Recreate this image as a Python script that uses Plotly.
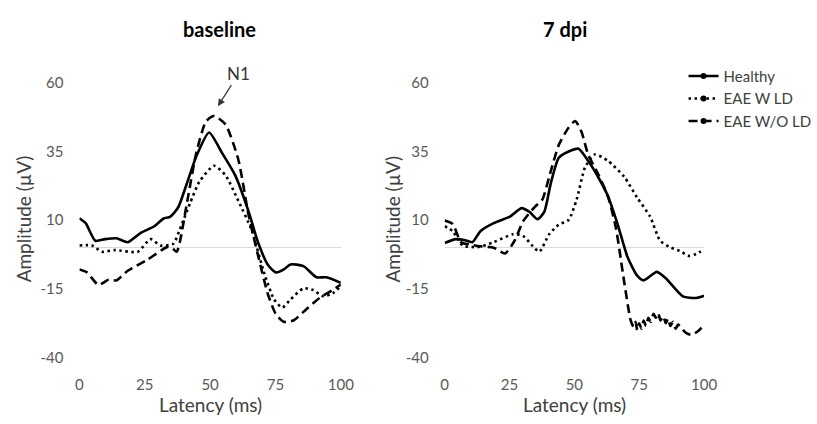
import plotly.graph_objects as go
from plotly.subplots import make_subplots

# ---------------- data ----------------
panel_titles = ["baseline", "7 dpi"]
series_names = ["Healthy", "EAE W LD", "EAE W/O LD"]
x_ticks = [0, 25, 50, 75, 100]
y_ticks = [60, 35, 10, -15, -40]

# baseline
base_healthy_t = [0, 2.4, 6.1, 9.8, 14.2, 18.5, 23.5, 28.5, 32.2, 34.7, 37.8, 40.9, 44.7, 49.6,
                  54.6, 59.6, 64.6, 68.3, 72, 75.1, 78.2, 80.7, 85.7, 90.7, 94.4, 100]
base_healthy_v = [10.7, 8.9, 2.5, 3.1, 3.4, 2.0, 5.4, 7.7, 10.6, 11.2, 14.7, 22.8, 33.2, 41.9,
                  34.4, 26.3, 13.5, 2.0, -6.1, -9.0, -7.9, -6.1, -6.7, -10.8, -10.8, -12.8]

base_wld_t = [0, 4.8, 8.6, 13.5, 22.3, 27.2, 31, 35.9, 38.4, 42.2, 45.9, 51.5, 55.9, 60.8,
              65.8, 70.8, 74.5, 77.6, 80.7, 85.7, 89.4, 93.2, 96.9, 100]
base_wld_v = [0.8, 0.8, -1.5, -0.9, -1.5, 3.1, 0.8, 1.4, 6.6, 15.9, 24.0, 29.8, 26.3, 17.0,
              6.6, -9.6, -18.9, -21.8, -18.9, -14.8, -15.4, -17.7, -16.6, -14.0]

base_wold_t = [0, 2.9, 7.3, 11.1, 14.2, 18.5, 26, 33.5, 35.3, 37.2, 38.4, 41.5, 44.7, 48.4,
               51.5, 55.9, 60.8, 64.6, 68.3, 72, 75.1, 78.2, 82, 86.9, 91.9, 96.9, 100]
base_wold_v = [-7.9, -9.0, -13.6, -11.7, -11.9, -8.4, -4.4, 0.2, 0.0, -1.5, 2.0, 18.2, 34.4, 45.9,
               47.9, 44.8, 32.0, 12.4, -2.7, -16.6, -24.1, -27.0, -26.4, -22.3, -18.3, -15.4, -13.4]

# 7 dpi
dpi_healthy_t = [0, 4.4, 7.5, 10.7, 13.8, 18.9, 25.2, 29.6, 32.7, 35.8, 38.4, 40.9, 44, 47.8,
                 51.6, 55.3, 59.1, 62.9, 66.7, 70.4, 74.2, 76.7, 81.8, 85.5, 91.8, 96.9, 100]
dpi_healthy_v = [1.7, 3.1, 2.8, 2.0, 6.0, 8.9, 11.3, 14.4, 13.0, 10.4, 13.0, 23.4, 32.7, 35.0,
                 36.0, 31.6, 25.8, 18.8, 8.4, -3.2, -10.2, -11.9, -8.8, -11.4, -17.7, -18.3, -17.5]

dpi_wld_t = [0, 3.1, 6.9, 12.6, 18.9, 26.4, 30.2, 34, 36.5, 40.3, 44, 47.8, 50.9, 54.1, 57.9,
             62.9, 69.2, 74.2, 79.2, 83, 86.8, 90.6, 94.3, 96.9, 100]
dpi_wld_v = [7.8, 6.0, 0.8, 0.2, 2.0, 4.9, 4.3, 0.5, -1.5, 4.9, 8.4, 10.1, 17.6, 29.2, 33.9,
             31.6, 25.8, 18.2, 11.3, 2.6, 0.2, -1.2, -3.0, -2.3, -0.6]

dpi_wold_t = [0, 3.1, 6.3, 9.4, 13.8, 18.9, 23.3, 27, 30.2, 34.6, 37.7, 40.3, 44, 47.8, 50.3,
              52.8, 55.3, 59.1, 62.9, 66, 69.2, 71.7, 72.8, 73.6, 74.2, 75.0, 75.8, 76.7, 77.6,
              78.5, 79.4, 80.5, 81.4, 82.3, 83.2, 84.3, 85.2, 86.1, 87.0, 88, 89.0, 90.0,
              91.8, 93.0, 95, 97.5, 100]
dpi_wold_v = [9.9, 8.6, 2.0, 1.2, 0.5, 0.0, -2.1, 2.6, 9.5, 14.7, 17.6, 25.8, 37.4, 43.7, 46.1,
              42.0, 33.9, 26.9, 18.8, 7.2, -12.5, -26.5, -28.8, -27.0, -30.0, -27.5, -29.5, -26.5,
              -28.5, -25.5, -27.0, -24.1, -25.5, -23.8, -26.5, -25.0, -27.5, -25.8, -28.5, -27.0,
              -29.5, -28.0, -29.9, -31.0, -31.7, -30.5, -28.2]

panels = [
    [(base_healthy_t, base_healthy_v), (base_wld_t, base_wld_v), (base_wold_t, base_wold_v)],
    [(dpi_healthy_t, dpi_healthy_v), (dpi_wld_t, dpi_wld_v), (dpi_wold_t, dpi_wold_v)],
]

# ---------------- styling ----------------
FONT = "Lato"
dashes = ["solid", "2.5px,3.5px", "9px,5px"]
LINE_W = 2.6

W, H = 817, 424
def px(x):
    return x / W
def py(y):
    return 1 - y / H

fig = make_subplots(rows=1, cols=2)

for col, series in enumerate(panels, start=1):
    for i, (t, v) in enumerate(series):
        fig.add_trace(go.Scatter(
            x=t, y=v, mode="lines", name=series_names[i],
            line=dict(color="black", width=LINE_W, dash=dashes[i], shape="spline", smoothing=0.6),
            showlegend=False, legendgroup=series_names[i], hoverinfo="skip"),
            row=1, col=col)

# legend entries (line with a marker in the middle)
for i, name in enumerate(series_names):
    fig.add_trace(go.Scatter(
        x=[None], y=[None], mode="lines+markers", name=name, legendgroup=name,
        line=dict(color="black", width=LINE_W, dash=dashes[i]),
        marker=dict(color="black", size=6, symbol="circle")),
        row=1, col=2)

xdom = [[px(77), px(344)], [px(450), px(715)]]
ydom = [py(363), py(76)]

for k in range(2):
    xa = "xaxis" if k == 0 else "xaxis2"
    ya = "yaxis" if k == 0 else "yaxis2"
    fig.layout[xa].update(
        domain=xdom[k], range=[0, 100], tickvals=x_ticks, ticktext=[str(v) for v in x_ticks],
        showgrid=False, zeroline=False, showline=False, ticks="",
        tickfont=dict(family=FONT, size=15, color="#595959"), ticklabelstandoff=16)
    fig.layout[ya].update(
        domain=ydom, range=[-40, 60], tickvals=y_ticks, ticktext=[str(v) for v in y_ticks],
        showgrid=False, zeroline=True, zerolinecolor="#d9d9d9", zerolinewidth=1,
        showline=False, ticks="",
        tickfont=dict(family=FONT, size=15, color="#595959"), ticklabelstandoff=15)

annotations = []
centers_x = [210.5, 583]
title_x = [220, 573]
ytitle_x = [20, 397]
for k in range(2):
    annotations.append(dict(text="<b>" + panel_titles[k] + "</b>", x=px(title_x[k]), y=py(20),
                            xref="paper", yref="paper", xanchor="center", yanchor="middle",
                            showarrow=False,
                            font=dict(family=FONT, size=20, color="#000000")))
    annotations.append(dict(text="Latency (ms)", x=px(centers_x[k]), y=py(412),
                            xref="paper", yref="paper", xanchor="center", yanchor="middle",
                            showarrow=False,
                            font=dict(family=FONT, size=19, color="#404040")))
    annotations.append(dict(text="Amplitude (µV)", x=px(ytitle_x[k]), y=py(218),
                            xref="paper", yref="paper", xanchor="center", yanchor="middle",
                            showarrow=False, textangle=-90,
                            font=dict(family=FONT, size=19, color="#404040")))

annotations.append(dict(text="N1", x=53, y=51.5, xref="x", yref="y", showarrow=True,
                        ax=21, ay=-33, arrowhead=2, arrowsize=1.2, arrowwidth=1.2,
                        arrowcolor="#333333",
                        font=dict(family=FONT, size=17, color="#333333")))

fig.update_layout(
    width=W, height=H,
    margin=dict(l=0, r=0, t=0, b=0),
    paper_bgcolor="white", plot_bgcolor="white",
    annotations=annotations,
    showlegend=True,
    legend=dict(x=px(694), y=py(52), xanchor="left", yanchor="top",
                font=dict(family=FONT, size=15, color="#404040"),
                bgcolor="rgba(0,0,0,0)", tracegroupgap=0, itemwidth=30),
)

fig.write_html("out.html")
